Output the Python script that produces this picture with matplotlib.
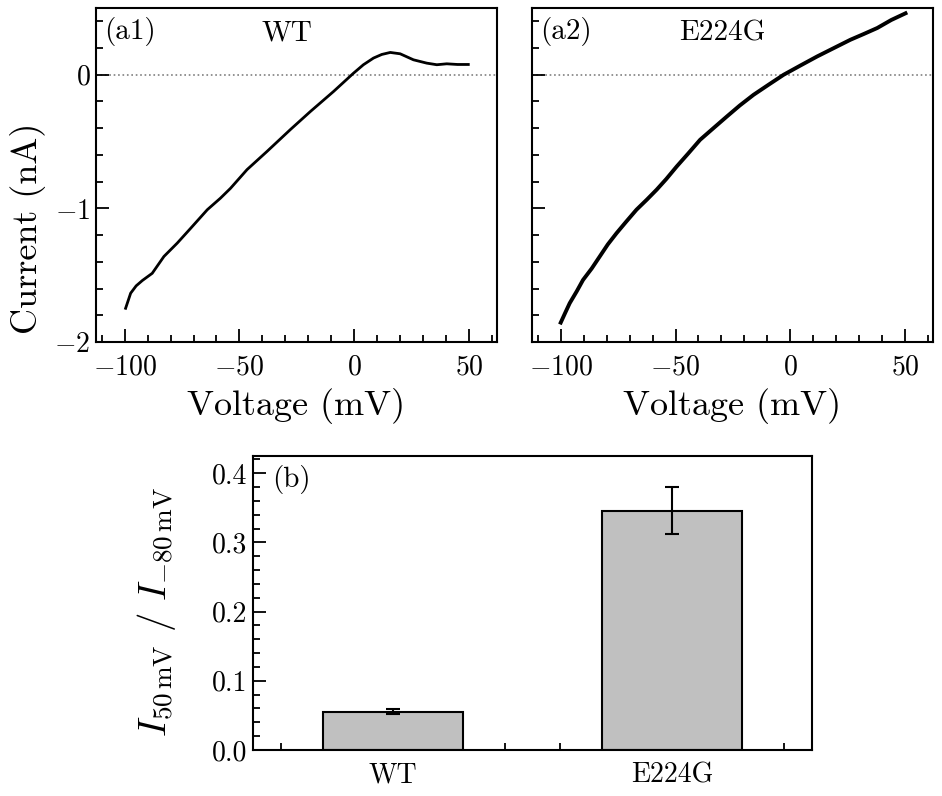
import matplotlib
matplotlib.use("Agg")
import matplotlib.pyplot as plt
from matplotlib.ticker import MultipleLocator, FormatStrFormatter
import numpy as np

plt.rcParams['font.family'] = ['cmr10', 'DejaVu Serif']
plt.rcParams['mathtext.fontset'] = 'cm'
plt.rcParams['axes.formatter.use_mathtext'] = True
plt.rcParams['axes.unicode_minus'] = True

# WT current-voltage trace
wt_v = [-99.6, -97.4, -95, -92.3, -88, -82.9, -77.1, -71.3, -64, -58.3,
        -53.9, -46.7, -38, -27.8, -19.1, -9, -0.3, 4, 8.4, 12, 15.7, 20,
        25.8, 31.6, 36, 40.3, 45, 49.7]
wt_i = [-1.748, -1.635, -1.58, -1.54, -1.486, -1.36, -1.26, -1.15, -1.01,
        -0.924, -0.85, -0.71, -0.574, -0.41, -0.275, -0.125, 0.012, 0.075,
        0.125, 0.152, 0.167, 0.157, 0.112, 0.087, 0.075, 0.082, 0.077,
        0.077]

# E224G current-voltage trace
mut_v = [-100, -98, -96.1, -93, -90.3, -86.5, -83, -79.5, -75.7, -71.5, -67,
         -62.5, -58.2, -54, -49.5, -44.5, -39.3, -33.5, -27.6, -22, -16,
         -9.5, -2.9, 4.5, 11.7, 19, 26.2, 32, 37.9, 44, 50.2]
mut_i = [-1.855, -1.78, -1.71, -1.62, -1.536, -1.45, -1.36, -1.27, -1.186,
         -1.1, -1.01, -0.935, -0.86, -0.78, -0.687, -0.59, -0.487, -0.4,
         -0.312, -0.23, -0.15, -0.075, 0.0, 0.07, 0.137, 0.2, 0.262, 0.305,
         0.35, 0.41, 0.46]

# ratio bar chart
groups = ['WT', 'E224G']
ratio = [0.0555, 0.346]
ratio_err = [0.0035, 0.034]

fig = plt.figure(figsize=(9.42, 7.96), dpi=100)
ax1 = fig.add_axes([0.1019, 0.5704, 0.4257, 0.4196])
ax2 = fig.add_axes([0.5648, 0.5704, 0.4257, 0.4196])
ax3 = fig.add_axes([0.2686, 0.0578, 0.5934, 0.3693])

for ax in (ax1, ax2, ax3):
    for s in ax.spines.values():
        s.set_linewidth(1.5)
    ax.tick_params(which='both', direction='in', top=False, right=False,
                   width=1.3, labelsize=20)
    ax.tick_params(which='major', length=9.5)
    ax.tick_params(which='minor', length=5)

for ax, v, i, lw, lab, name in ((ax1, wt_v, wt_i, 2.0, '(a1)', 'WT'),
                                (ax2, mut_v, mut_i, 2.8, '(a2)', 'E224G')):
    ax.axhline(0, color='gray', ls=':', lw=1.2, zorder=1)
    ax.plot(v, i, color='black', lw=lw, zorder=3)
    ax.set_xlim(-112.5, 62.2)
    ax.set_ylim(-2, 0.5)
    ax.xaxis.set_major_locator(MultipleLocator(50))
    ax.xaxis.set_minor_locator(MultipleLocator(10))
    ax.yaxis.set_major_locator(MultipleLocator(1))
    ax.yaxis.set_minor_locator(MultipleLocator(0.2))
    ax.tick_params(axis='x', pad=9)
    ax.tick_params(axis='y', pad=4)
    ax.set_xlabel('Voltage (mV)', fontsize=26, labelpad=5)
    ax.text(0.02, 0.93, lab, transform=ax.transAxes, fontsize=21,
            ha='left', va='center')
    ax.text(0.475, 0.925, name, transform=ax.transAxes, fontsize=21,
            ha='center', va='center')

ax1.set_ylabel('Current (nA)', fontsize=26)
ax1.yaxis.set_label_coords(-0.125, 0.34)
ax2.tick_params(axis='y', labelleft=False)

x = np.arange(len(groups))
ax3.bar(x, ratio, width=0.5, color='#c0c0c0', edgecolor='black', lw=1.5,
        zorder=2)
ax3.errorbar(x, ratio, yerr=ratio_err, fmt='none', ecolor='black',
             elinewidth=1.5, capsize=5, capthick=1.5, zorder=3)
ax3.set_xlim(-0.5, 1.5)
ax3.set_ylim(0, 0.425)
ax3.set_xticks(x)
ax3.set_xticklabels(groups)
ax3.xaxis.set_minor_locator(MultipleLocator(0.2))
ax3.yaxis.set_major_locator(MultipleLocator(0.1))
ax3.yaxis.set_minor_locator(MultipleLocator(0.02))
ax3.yaxis.set_major_formatter(FormatStrFormatter('%.1f'))
ax3.tick_params(axis='x', pad=9)
ax3.tick_params(axis='y', pad=4)
ax3.set_ylabel(r'$I_{50\,\mathrm{mV}}\ /\ I_{-80\,\mathrm{mV}}$', fontsize=28)
ax3.yaxis.set_label_coords(-0.135, 0.47)
ax3.text(0.035, 0.92, '(b)', transform=ax3.transAxes, fontsize=21,
         ha='left', va='center')

fig.savefig('out.png', dpi=100)
